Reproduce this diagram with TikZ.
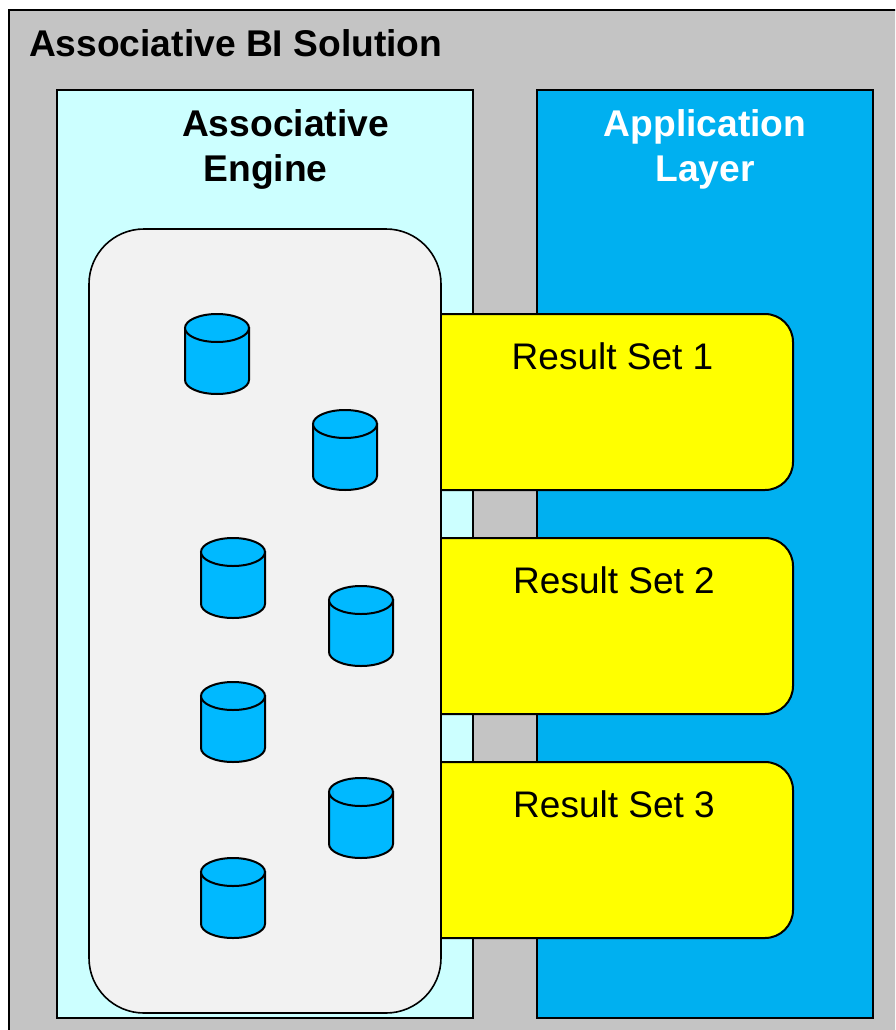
\documentclass[tikz,border=0pt]{standalone}
\usepackage{fontspec}
\setmainfont{Liberation Sans}
\usepackage{tikz}
\usetikzlibrary{arrows.meta,positioning,calc}
\definecolor{framegray}{HTML}{C4C4C4}
\definecolor{enginecyan}{HTML}{CCFFFF}
\definecolor{appblue}{HTML}{00B0F0}
\definecolor{memgray}{HTML}{F2F2F2}
\definecolor{cylblue}{HTML}{00B9FF}
\definecolor{resultyellow}{HTML}{FFFF00}
\tikzset{
  every node/.append style={font=\fontsize{37}{45}\selectfont, inner sep=0pt, outer sep=0pt},
  headtext/.style={font=\fontsize{37.2}{45}\selectfont\bfseries},
  panel/.style={draw=black, line width=2pt, minimum height=928pt},
  resultbox/.style={draw=black, line width=2pt, fill=resultyellow, rounded corners=28pt, minimum width=393pt, minimum height=176pt},
  resulttext/.style={text=black},
  storeline/.style={draw=black, line width=2pt, fill=cylblue},
  pics/datastore/.style={code={
    \path[storeline] (-32,-26) -- (-32,26) arc[start angle=180, end angle=360, x radius=32pt, y radius=14pt] -- (32,-26) -- cycle;
    \path[storeline] (0,-26) ellipse[x radius=32pt, y radius=14pt];
  }}
}
\begin{document}
\begin{tikzpicture}[x=1pt, y=-1pt]
\useasboundingbox (0,0) rectangle (895,1030);
\clip (0,0) rectangle (895,1030);

% Outer frame runs off the page on two sides
\node[draw=black, line width=2pt, fill=framegray, minimum width=900pt, minimum height=1040pt, anchor=north west] (frame) at (9,10) {};
\node[anchor=west, headtext] (title) at ($(frame.north west)+(20,33)$) {Associative BI Solution};

% Two layers
\node[panel, fill=enginecyan, minimum width=416pt] (engine) at (265,554) {};
\node[panel, fill=appblue, minimum width=336pt] (app) at (705,554) {};
\node[align=center, headtext] (enginetitle) at (285.5,149) {Associative\\Engine\hspace*{40pt}};
\node[align=center, text=white, headtext] (apptitle) at (705,149) {Application\\Layer};

% Result sets (left ends hidden by the memory box)
\node[resultbox] (result1) at (596.5,402) {};
\node[resultbox] (result2) at (596.5,626) {};
\node[resultbox] (result3) at (596.5,850) {};
\node[resulttext] (label1) at ($(result1.north)+(16,42)$) {Result Set 1};
\node[resulttext] (label2) at ($(result2.north)+(17.5,42)$) {Result Set 2};
\node[resulttext] (label3) at ($(result3.north)+(17.5,42)$) {Result Set 3};

% Memory box
\node[draw=black, line width=1.6pt, fill=memgray, rounded corners=55pt, minimum width=352pt, minimum height=784pt] (memory) at (265,621) {};

% Data stores
\pic (store1) at (217,354) {datastore};
\pic (store2) at (345,450) {datastore};
\pic (store3) at (233,578) {datastore};
\pic (store4) at (361,626) {datastore};
\pic (store5) at (233,722) {datastore};
\pic (store6) at (361,818) {datastore};
\pic (store7) at (233,898) {datastore};

\end{tikzpicture}
\end{document}
